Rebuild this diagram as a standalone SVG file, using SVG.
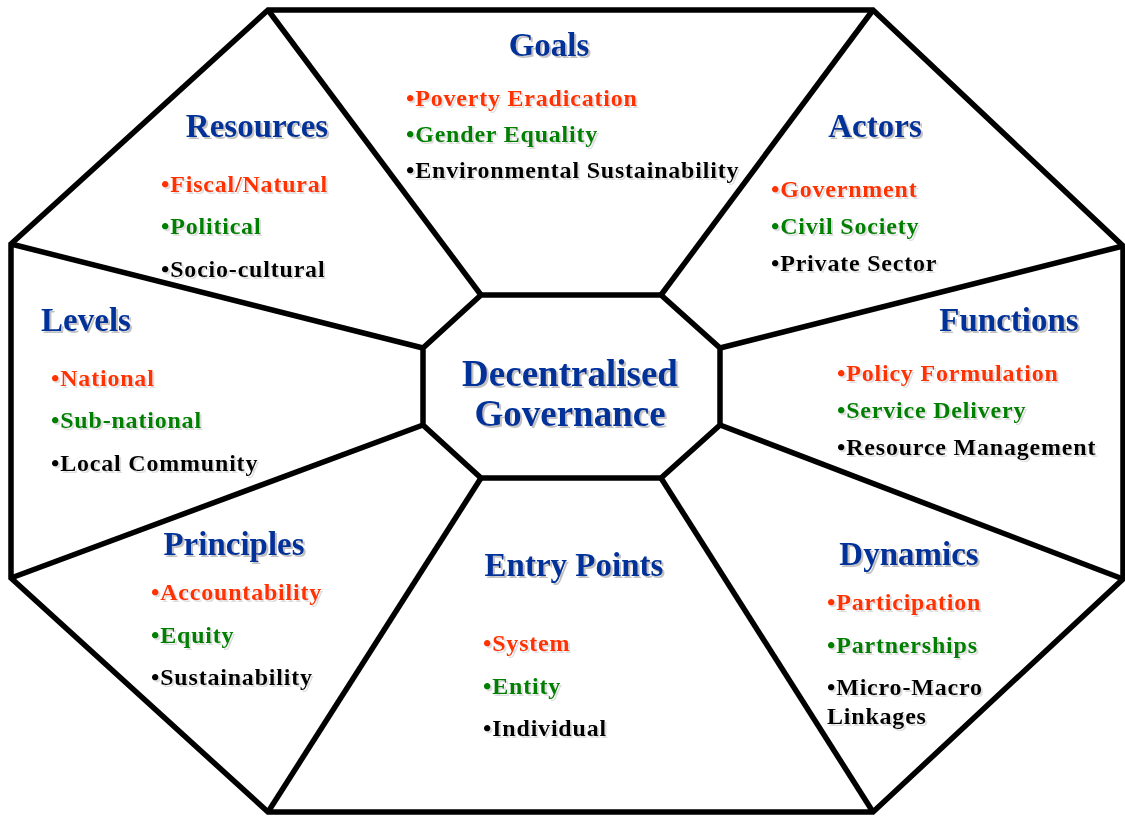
<svg xmlns="http://www.w3.org/2000/svg" width="1125" height="817" viewBox="0 0 1125 817">
  <defs>
    <filter id="shadow" x="-10%" y="-20%" width="120%" height="150%">
      <feGaussianBlur in="SourceAlpha" stdDeviation="0.6" result="b"/>
      <feOffset in="b" dx="2" dy="2" result="o"/>
      <feFlood flood-color="#9a9a9a" flood-opacity="0.6"/>
      <feComposite in2="o" operator="in" result="s"/>
      <feMerge>
        <feMergeNode in="s"/>
        <feMergeNode in="SourceGraphic"/>
      </feMerge>
    </filter>
    <filter id="shadow-soft" x="-10%" y="-20%" width="120%" height="150%">
      <feGaussianBlur in="SourceAlpha" stdDeviation="0.6" result="b"/>
      <feOffset in="b" dx="1.5" dy="1.5" result="o"/>
      <feFlood flood-color="#a0a0a0" flood-opacity="0.35"/>
      <feComposite in2="o" operator="in" result="s"/>
      <feMerge>
        <feMergeNode in="s"/>
        <feMergeNode in="SourceGraphic"/>
      </feMerge>
    </filter>
  </defs>
  <style>
    .frame { fill: none; stroke: #000; stroke-width: 5.5; stroke-linejoin: miter; }
    .hub { fill: #fff; stroke: #000; stroke-width: 5.5; }
    text { font-family: "Liberation Serif", "Times New Roman", serif; font-weight: bold; }
    .title { font-size: 33px; fill: #003399; text-anchor: middle; filter: url(#shadow); }
    .core { font-size: 37px; fill: #003399; text-anchor: middle; filter: url(#shadow); }
    .item { font-size: 24px; letter-spacing: 0.8px; filter: url(#shadow-soft); }
    .red { fill: #ff3300; }
    .green { fill: #008000; }
    .black { fill: #000; }
  </style>
  <rect width="1125" height="817" fill="#fff"/>

  <!-- outer frame and spokes -->
  <g id="connectors">
    <polygon class="frame" points="268,10 873,10 1123,246 1123,579 873,812 268,812 11,578 11,244"/>
    <line class="frame" x1="268" y1="10" x2="481" y2="295"/>
    <line class="frame" x1="873" y1="10" x2="661" y2="295"/>
    <line class="frame" x1="1123" y1="246" x2="720" y2="348"/>
    <line class="frame" x1="1123" y1="579" x2="720" y2="425"/>
    <line class="frame" x1="873" y1="812" x2="661" y2="478"/>
    <line class="frame" x1="268" y1="812" x2="481" y2="478"/>
    <line class="frame" x1="11" y1="578" x2="423" y2="425"/>
    <line class="frame" x1="11" y1="244" x2="423" y2="348"/>
  </g>

  <g id="center">
    <polygon class="hub" points="481,295 661,295 720,348 720,425 661,478 481,478 423,425 423,348"/>
    <text class="core" x="570" y="386">Decentralised</text>
    <text class="core" x="570" y="426">Governance</text>
  </g>

  <g id="goals">
    <text class="title" x="549" y="56">Goals</text>
    <text class="item red" x="406" y="106">•Poverty Eradication</text>
    <text class="item green" x="406" y="142">•Gender Equality</text>
    <text class="item black" x="406" y="178">•Environmental Sustainability</text>
  </g>

  <g id="resources">
    <text class="title" x="257" y="137">Resources</text>
    <text class="item red" x="161" y="192">•Fiscal/Natural</text>
    <text class="item green" x="161" y="234">•Political</text>
    <text class="item black" x="161" y="277">•Socio-cultural</text>
  </g>

  <g id="actors">
    <text class="title" x="875" y="137">Actors</text>
    <text class="item red" x="771" y="197">•Government</text>
    <text class="item green" x="771" y="234">•Civil Society</text>
    <text class="item black" x="771" y="271">•Private Sector</text>
  </g>

  <g id="levels">
    <text class="title" x="86" y="331">Levels</text>
    <text class="item red" x="51" y="386">•National</text>
    <text class="item green" x="51" y="428">•Sub-national</text>
    <text class="item black" x="51" y="471">•Local Community</text>
  </g>

  <g id="functions">
    <text class="title" x="1009" y="331">Functions</text>
    <text class="item red" x="837" y="381">•Policy Formulation</text>
    <text class="item green" x="837" y="418">•Service Delivery</text>
    <text class="item black" x="837" y="455">•Resource Management</text>
  </g>

  <g id="principles">
    <text class="title" x="234" y="555">Principles</text>
    <text class="item red" x="151" y="600">•Accountability</text>
    <text class="item green" x="151" y="643">•Equity</text>
    <text class="item black" x="151" y="685">•Sustainability</text>
  </g>

  <g id="entry-points">
    <text class="title" x="574" y="576">Entry Points</text>
    <text class="item red" x="483" y="651">•System</text>
    <text class="item green" x="483" y="694">•Entity</text>
    <text class="item black" x="483" y="736">•Individual</text>
  </g>

  <g id="dynamics">
    <text class="title" x="909" y="565">Dynamics</text>
    <text class="item red" x="827" y="610">•Participation</text>
    <text class="item green" x="827" y="653">•Partnerships</text>
    <text class="item black" x="827" y="695">•Micro-Macro</text>
    <text class="item black" x="827" y="724">Linkages</text>
  </g>
</svg>
